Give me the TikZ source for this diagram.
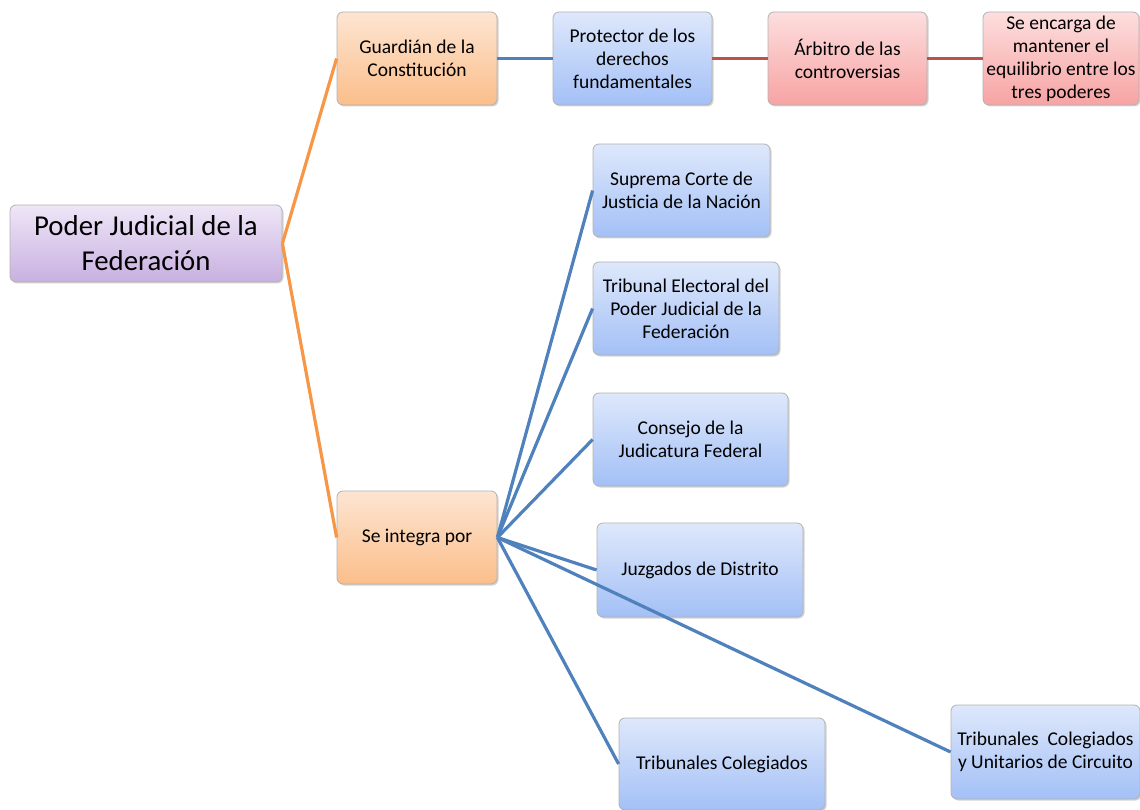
\documentclass[tikz,border=0pt]{standalone}
\usepackage{fontspec}
\setmainfont{Carlito}
\usetikzlibrary{shadows}
\definecolor{oTop}{HTML}{FDE5D2}
\definecolor{oBot}{HTML}{FBBE8A}
\definecolor{bTop}{HTML}{DEE8FB}
\definecolor{bBot}{HTML}{A3C0F6}
\definecolor{rTop}{HTML}{FDDEDE}
\definecolor{rBot}{HTML}{F7A3A3}
\definecolor{pTop}{HTML}{EFE6F7}
\definecolor{pBot}{HTML}{C8B0E0}
\definecolor{lOrange}{HTML}{F79646}
\definecolor{lBlue}{HTML}{4F81BD}
\definecolor{lRed}{HTML}{C0504D}
\tikzset{
  box/.style={draw=gray!60, line width=0.8pt, rounded corners=6pt, align=center,
    inner sep=1pt, font=\fontsize{19.5}{23}\selectfont,
    drop shadow={shadow xshift=1.5pt, shadow yshift=-1.5pt, opacity=0.35}},
  obox/.style={box, top color=oTop, bottom color=oBot},
  bbox/.style={box, top color=bTop, bottom color=bBot},
  rbox/.style={box, top color=rTop, bottom color=rBot},
  pbox/.style={box, top color=pTop, bottom color=pBot, font=\fontsize{28.8}{35}\selectfont},
  oline/.style={draw=lOrange, line width=3.2pt},
  bline/.style={draw=lBlue, line width=3.2pt},
  rline/.style={draw=lRed, line width=3.2pt},
}
\begin{document}
\begin{tikzpicture}[x=1pt,y=-1pt]
\useasboundingbox (0,0) rectangle (1140,810);
\node[pbox, minimum width=272pt, minimum height=77pt] (root) at (146,243.5) {Poder Judicial de la\\Federación};
\node[obox, minimum width=160pt, minimum height=93pt] (guard) at (417,58.5) {Guardián de la\\Constitución};
\node[bbox, minimum width=159pt, minimum height=93pt] (prot) at (632.5,58.5) {Protector de los\\derechos\\fundamentales};
\node[rbox, minimum width=159pt, minimum height=93pt] (arb) at (847.5,58.5) {Árbitro de las\\controversias};
\node[rbox, minimum width=156pt, minimum height=93pt] (equi) at (1061,58.5) {Se encarga de\\mantener el\\equilibrio entre los\\tres poderes};
\node[obox, minimum width=160pt, minimum height=93pt] (integ) at (417,537.5) {Se integra por};
\node[bbox, minimum width=177pt, minimum height=93pt] (scjn) at (681.5,190.5) {Suprema Corte de\\Justicia de la Nación};
\node[bbox, minimum width=186pt, minimum height=93pt] (tepj) at (686,308.5) {Tribunal Electoral del\\Poder Judicial de la\\Federación};
\node[bbox, minimum width=195pt, minimum height=93pt] (cjf) at (690.5,439.5) {Consejo de la\\Judicatura Federal};
\node[bbox, minimum width=206pt, minimum height=94pt] (juz) at (700,570) {Juzgados de Distrito};
\node[bbox, minimum width=206pt, minimum height=92pt] (tcol) at (722,764) {Tribunales Colegiados};
\node[bbox, minimum width=189pt, minimum height=94pt] (tuni) at (1045.5,752) {Tribunales\ \ Colegiados\\y Unitarios de Circuito};
\draw[oline] (root.east) -- (guard.west);
\draw[oline] (root.east) -- (integ.west);
\draw[bline] (guard.east) -- (prot.west);
\draw[rline] (prot.east) -- (arb.west);
\draw[rline] (arb.east) -- (equi.west);
\draw[bline] (integ.east) -- (scjn.west);
\draw[bline] (integ.east) -- (tepj.west);
\draw[bline] (integ.east) -- (cjf.west);
\draw[bline] (integ.east) -- (juz.west);
\draw[bline] (integ.east) -- (tcol.west);
\draw[bline] (integ.east) -- (tuni.west);
\end{tikzpicture}
\end{document}
